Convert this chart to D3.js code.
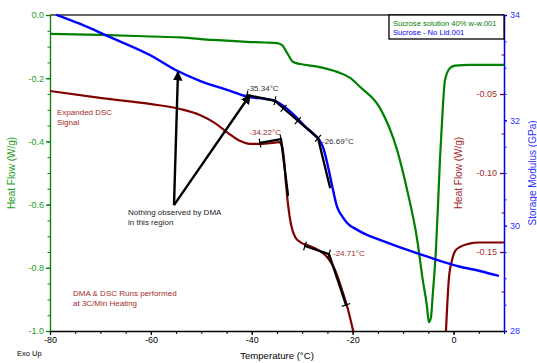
<!DOCTYPE html>
<html>
<head>
  <meta charset="utf8">
  <script src="https://d3js.org/d3.v7.min.js"></script>
  <style>
    body { margin: 0; background: #fff; }
    svg { font-family: "Liberation Sans", Arial, sans-serif; }
    .series { fill: none; stroke-linejoin: round; stroke-linecap: round; }
  </style>
</head>
<body>
  <svg id="chart" width="537" height="363"></svg>
  <script>
    // Sucrose solution 40% w-w : heat flow (W/g), left axis
    var greenTemp = [-80, -70, -60, -54.2, -47.7, -41, -37.4, -35, -34, -33, -31.8, -30.4, -26.5, -23.1, -20.5,
      -18.5, -14.6, -11.2, -9.2, -7.2, -6.1, -5.3, -4.9, -4.5, -4.1, -3.5, -3.1, -2.7, -2.3, -1.7, -0.7, 0.3, 3.2, 10];
    var greenFlow = [-0.060, -0.063, -0.068, -0.071, -0.079, -0.085, -0.087, -0.089, -0.095, -0.120, -0.149, -0.155,
      -0.165, -0.180, -0.199, -0.228, -0.294, -0.427, -0.554, -0.712, -0.839, -0.918, -0.972, -0.959, -0.880, -0.744,
      -0.608, -0.459, -0.342, -0.206, -0.168, -0.160, -0.158, -0.158];

    // Sucrose - No Lid : storage modulus (GPa), right blue axis
    var blueTemp = [-78.6, -74, -68.1, -60.2, -55.2, -50.3, -44.3, -40.4, -37.4, -35.4, -33.4, -31.4, -29.5, -27.5,
      -26.5, -25.7, -25.1, -24.5, -23.9, -23.1, -22.1, -21.1, -19.1, -16.6, -14.6, -10.6, -6.7, -2.7, 1.3, 5.2, 8.8];
    var blueMod = [34.00, 33.83, 33.58, 33.24, 32.96, 32.75, 32.56, 32.44, 32.41, 32.37, 32.25, 32.08, 31.89, 31.72,
      31.61, 31.44, 31.21, 30.95, 30.68, 30.36, 30.18, 30.05, 29.92, 29.80, 29.73, 29.59, 29.46, 29.33, 29.22, 29.14, 29.05];

    // Expanded DSC signal (W/g), right red axis; null = off scale
    var redTemp = [-80, -70.1, -60.2, -54.2, -50.3, -47.3, -44.7, -42.3, -40.4, -38, -36, -34.6, -34, -33.6, -33.2,
      -32.8, -32.2, -31.4, -30.4, -28.5, -26.5, -24.9, -23.5, -22.1, -20.9, -19.9, -10,
      -1.5, -0.9, -0.3, 0.3, 1.3, 2.9, 5.2, 10];
    var redFlow = [-0.0481, -0.0525, -0.0563, -0.0595, -0.0633, -0.0684, -0.0747, -0.0797, -0.0816, -0.0816, -0.0810,
      -0.0804, -0.0829, -0.0918, -0.1076, -0.1203, -0.1329, -0.1405, -0.1437, -0.1462, -0.1494, -0.1538, -0.1614,
      -0.1741, -0.1867, -0.2000, null,
      -0.2000, -0.1658, -0.1551, -0.1494, -0.1468, -0.1449, -0.1440, -0.1440];

    // tick labels
    var xTicks = [-80, -60, -40, -20, 0];
    var flowTicks = [0, -0.2, -0.4, -0.6, -0.8, -1.0];
    var redTicks = [-0.05, -0.10, -0.15];
    var modTicks = [28, 30, 32, 34];

    // onset analysis lines (temperature, value)
    var blueTangent = [[-40.95, 32.48], [-35.4, 32.37], [-26.87, 31.66], [-24.5, 30.73]];
    var redTangent1 = [[-38.37, -0.0810], [-34.21, -0.0785], [-32.82, -0.1139]];
    var redTangent2 = [[-29.45, -0.1462], [-24.69, -0.1513], [-21.32, -0.1835]];

    var green = '#008000', blue = '#0000ff', red = '#800000', redText = '#a52a2a';

    var chart = d3.select('#chart');
    var pLeft = 50, pRight = 504, pTop = 15, pBottom = 331;

    var x = d3.scaleLinear().domain([-80, 10]).range([pLeft, pRight]);
    var yFlow = d3.scaleLinear().domain([-1, 0]).range([pBottom, pTop]);
    var yRed = d3.scaleLinear().domain([-0.2, 0]).range([pBottom, pTop]);
    var yMod = d3.scaleLinear().domain([28, 34]).range([pBottom, pTop]);

    var defs = chart.append('defs');
    defs.append('clipPath').attr('id', 'clip')
      .append('rect').attr('x', pLeft).attr('y', pTop - 2).attr('width', pRight - pLeft).attr('height', pBottom - pTop + 2);
    defs.append('marker')
      .attr('id', 'head')
      .attr('viewBox', '0 0 10 10')
      .attr('refX', 9).attr('refY', 5)
      .attr('markerWidth', 4).attr('markerHeight', 4)
      .attr('markerUnits', 'strokeWidth')
      .attr('orient', 'auto')
      .append('path').attr('d', 'M0,0 L10,5 L0,10 z').attr('fill', '#000');

    // top frame line
    chart.append('line')
      .attr('x1', pLeft).attr('x2', pRight).attr('y1', pTop).attr('y2', pTop)
      .attr('stroke', '#333').attr('stroke-width', 1.5);

    // bottom axis
    var xAxis = chart.append('g').attr('transform', 'translate(0,' + pBottom + ')')
      .call(d3.axisBottom(x).tickValues(xTicks).tickSize(4).tickSizeOuter(0).tickPadding(2).tickFormat((d) => String(d)));
    chart.append('g').attr('transform', 'translate(0,' + pBottom + ')')
      .call(d3.axisBottom(x).tickValues(d3.range(-75, 11, 5)).tickSize(3).tickSizeOuter(0).tickFormat(''))
      .call((g) => g.select('.domain').remove());
    xAxis.selectAll('text').attr('font-size', 9).attr('fill', '#000');
    xAxis.selectAll('line, .domain').attr('stroke', '#000').attr('stroke-width', 1.3);

    // left heat flow axis
    var yAxis = chart.append('g').attr('transform', 'translate(' + pLeft + ',0)')
      .call(d3.axisLeft(yFlow).tickValues(flowTicks).tickSize(4).tickSizeOuter(0).tickPadding(2).tickFormat((d) => d.toFixed(1)));
    chart.append('g').attr('transform', 'translate(' + pLeft + ',0)')
      .call(d3.axisLeft(yFlow).tickValues(d3.range(-0.05, -1, -0.05)).tickSize(2.5).tickFormat(''))
      .call((g) => g.select('.domain').remove())
      .selectAll('line').attr('stroke', green);
    yAxis.selectAll('text').attr('font-size', 9).attr('fill', '#22a022');
    yAxis.selectAll('line, .domain').attr('stroke', green).attr('stroke-width', 1.3);

    // right expanded DSC axis (ticks inside)
    var redAxis = chart.append('g').attr('transform', 'translate(' + pRight + ',0)')
      .call(d3.axisLeft(yRed).tickValues(redTicks).tickSize(4).tickPadding(3).tickFormat((d) => d.toFixed(2)))
      .call((g) => g.select('.domain').remove());
    chart.append('g').attr('transform', 'translate(' + pRight + ',0)')
      .call(d3.axisLeft(yRed).tickValues([-0.025, -0.075, -0.125, -0.175]).tickSize(2.5).tickFormat(''))
      .call((g) => g.select('.domain').remove())
      .selectAll('line').attr('stroke', red);
    redAxis.selectAll('text').attr('font-size', 9).attr('fill', redText);
    redAxis.selectAll('line').attr('stroke', red).attr('stroke-width', 1.3);

    // right storage modulus axis
    var modAxis = chart.append('g').attr('transform', 'translate(' + pRight + ',0)')
      .call(d3.axisRight(yMod).tickValues(modTicks).tickSize(3).tickSizeOuter(0).tickPadding(3).tickFormat((d) => String(d)));
    chart.append('g').attr('transform', 'translate(' + pRight + ',0)')
      .call(d3.axisRight(yMod).tickValues(d3.range(28.5, 34, 0.5).filter((d) => d % 2 !== 0)).tickSize(2.5).tickFormat(''))
      .call((g) => g.select('.domain').remove())
      .selectAll('line').attr('stroke', blue);
    modAxis.selectAll('text').attr('font-size', 9).attr('fill', '#3030ff');
    modAxis.selectAll('line, .domain').attr('stroke', blue).attr('stroke-width', 1.5);

    // axis titles
    chart.append('text')
      .attr('transform', 'translate(15,' + (pTop + pBottom) / 2 + ') rotate(-90)')
      .attr('text-anchor', 'middle').attr('font-size', 10).attr('fill', '#22a022')
      .text('Heat Flow (W/g)');
    chart.append('text')
      .attr('transform', 'translate(462,' + (pTop + pBottom) / 2 + ') rotate(-90)')
      .attr('text-anchor', 'middle').attr('font-size', 10).attr('fill', redText)
      .text('Heat Flow (W/g)');
    chart.append('text')
      .attr('transform', 'translate(536,' + (pTop + pBottom) / 2 + ') rotate(-90)')
      .attr('text-anchor', 'middle').attr('font-size', 10).attr('fill', '#3030ff')
      .text('Storage Modulus (GPa)');
    chart.append('text')
      .attr('x', (pLeft + pRight) / 2).attr('y', 359)
      .attr('text-anchor', 'middle').attr('font-size', 9.6).attr('fill', '#000')
      .text('Temperature (°C)');
    chart.append('text')
      .attr('x', 17).attr('y', 356).attr('font-size', 7.5).attr('fill', '#000')
      .text('Exo Up');

    // data lines
    var plot = chart.append('g').attr('clip-path', 'url(#clip)');

    var greenLine = d3.line().x((d, i) => x(greenTemp[i])).y((d) => yFlow(d)).curve(d3.curveMonotoneX);
    plot.append('path').datum(greenFlow).attr('class', 'series')
      .attr('stroke', green).attr('stroke-width', 2.2).attr('d', greenLine);

    var redLine = d3.line().defined((d) => d !== null)
      .x((d, i) => x(redTemp[i])).y((d) => yRed(d)).curve(d3.curveMonotoneX);
    plot.append('path').datum(redFlow).attr('class', 'series')
      .attr('stroke', red).attr('stroke-width', 2.2).attr('d', redLine);

    var blueLine = d3.line().x((d, i) => x(blueTemp[i])).y((d) => yMod(d)).curve(d3.curveMonotoneX);
    plot.append('path').datum(blueMod).attr('class', 'series')
      .attr('stroke', blue).attr('stroke-width', 2.4).attr('d', blueLine);

    // onset tangents with small cross ticks
    function tangent(pts, yScale, ticks) {
      var px = pts.map((p) => [x(p[0]), yScale(p[1])]);
      plot.append('path').datum(px).attr('class', 'series')
        .attr('stroke', '#000').attr('stroke-width', 2.3).attr('d', d3.line());
      ticks.forEach((t) => {
        var a = px[t[0]], b = px[t[0] + 1];
        var cx = a[0] + (b[0] - a[0]) * t[1], cy = a[1] + (b[1] - a[1]) * t[1];
        var len = Math.hypot(b[0] - a[0], b[1] - a[1]);
        var nx = -(b[1] - a[1]) / len * 4.5, ny = (b[0] - a[0]) / len * 4.5;
        plot.append('line')
          .attr('x1', cx - nx).attr('y1', cy - ny).attr('x2', cx + nx).attr('y2', cy + ny)
          .attr('stroke', '#000').attr('stroke-width', 1.2);
      });
      return px;
    }
    var bt = tangent(blueTangent, yMod, [[0, 0], [0, 1], [1, 0.2], [1, 0.53], [1, 1]]);
    var rt1 = tangent(redTangent1, yRed, [[0, 0], [0, 1]]);
    var rt2 = tangent(redTangent2, yRed, [[0, 0], [0, 1], [1, 1]]);

    chart.append('text').attr('x', bt[0][0]).attr('y', bt[0][1] - 4)
      .attr('font-size', 8).attr('fill', '#333').text('-35.34°C');
    chart.append('text').attr('x', bt[2][0] + 4).attr('y', bt[2][1] + 6)
      .attr('font-size', 8).attr('fill', '#333').text('-26.69°C');
    chart.append('text').attr('x', rt1[1][0]).attr('y', rt1[1][1] - 4).attr('text-anchor', 'end')
      .attr('font-size', 8).attr('fill', redText).text('-34.22°C');
    chart.append('text').attr('x', rt2[1][0] + 4).attr('y', rt2[1][1] + 2)
      .attr('font-size', 8).attr('fill', redText).text('-24.71°C');

    // arrows: "nothing observed by DMA"
    var arrowTail = [-55.42, 30.39];
    var arrowHeads = [[-54.63, 32.92], [-40.35, 32.48]];
    arrowHeads.forEach((h) => {
      chart.append('line')
        .attr('x1', x(arrowTail[0])).attr('y1', yMod(arrowTail[1]))
        .attr('x2', x(h[0])).attr('y2', yMod(h[1]))
        .attr('stroke', '#000').attr('stroke-width', 2.4)
        .attr('marker-end', 'url(#head)');
    });

    // notes
    function note(tx, ty, lines, color) {
      var t = chart.append('text').attr('font-size', 8).attr('fill', color);
      lines.forEach((s, i) => t.append('tspan').attr('x', tx).attr('y', ty + i * 10).text(s));
    }
    note(57, 115, ['Expanded DSC', 'Signal'], redText);
    note(128, 215, ['Nothing observed by DMA', 'in this region'], '#222');
    note(73, 296, ['DMA & DSC Runs performed', 'at 3C/Min Heating'], redText);

    // legend
    chart.append('rect')
      .attr('x', 389).attr('y', pTop).attr('width', pRight - 389).attr('height', 24)
      .attr('fill', '#fff').attr('stroke', '#000').attr('stroke-width', 1.3);
    chart.append('text').attr('x', 393).attr('y', 26).attr('font-size', 7.6).attr('fill', green)
      .text('Sucrose solution 40% w-w.001');
    chart.append('text').attr('x', 393).attr('y', 35).attr('font-size', 7.6).attr('fill', blue)
      .text('Sucrose - No Lid.001');
  </script>
</body>
</html>
